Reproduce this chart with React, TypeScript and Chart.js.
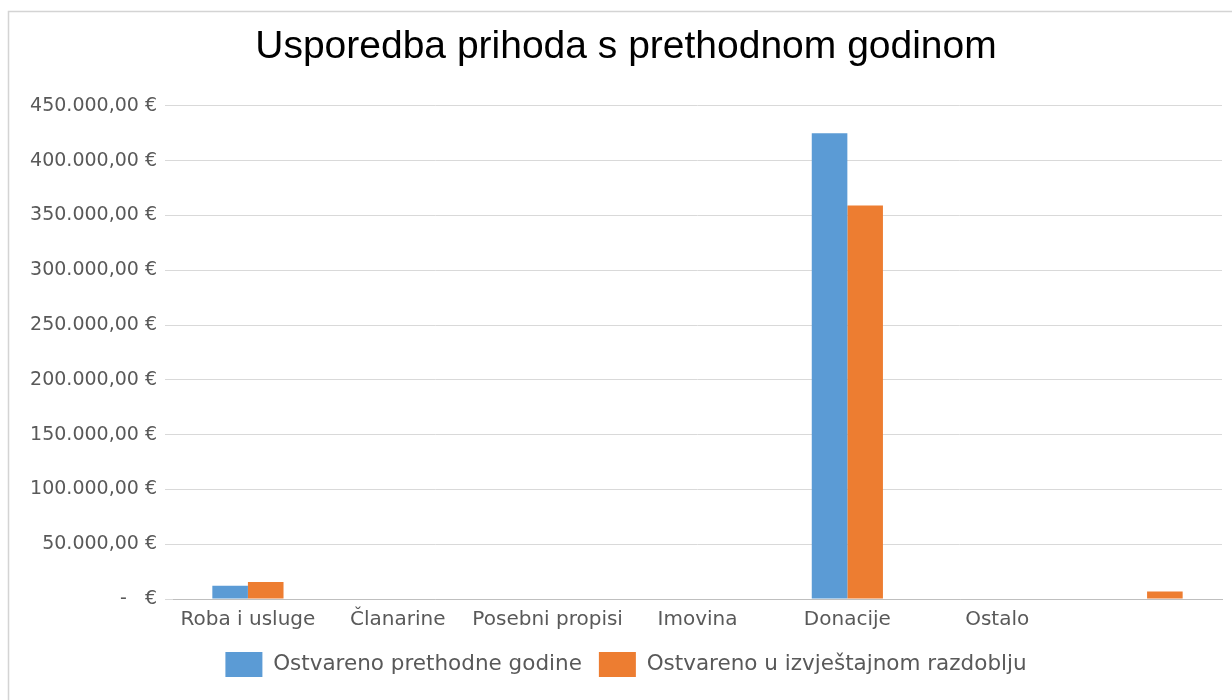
import React, { useEffect, useRef } from "react";
import { Chart, registerables } from "chart.js";

Chart.register(...registerables);

const categories = ["Roba i usluge", "Članarine", "Posebni propisi", "Imovina", "Donacije", "Ostalo", ""];
const prevYear = [12000, 0, 0, 0, 425000, 0, 0];
const currentPeriod = [15500, 0, 0, 0, 359000, 0, 6800];
const seriesLabels = ["Ostvareno prethodne godine", "Ostvareno u izvještajnom razdoblju"];
const titleText = "Usporedba prihoda s prethodnom godinom";
const yMax = 450000;
const yStep = 50000;

function formatEuro(v: number): string {
  if (v === 0) return "-   €";
  const intPart = Math.floor(v).toString().replace(/\B(?=(\d{3})+(?!\d))/g, ".");
  return intPart + ",00 €";
}

const framePlugin = {
  id: "frame",
  beforeDraw(chart: any) {
    const ctx = chart.ctx;
    ctx.save();
    ctx.fillStyle = "#ffffff";
    ctx.fillRect(0, 0, chart.width, chart.height);
    ctx.strokeStyle = "#d4d4d4";
    ctx.lineWidth = 1.5;
    ctx.strokeRect(8.5, 11.5, chart.width + 20, chart.height + 20);
    ctx.restore();
  },
};

export default function App() {
  const ref = useRef<HTMLCanvasElement | null>(null);
  useEffect(() => {
    if (!ref.current) return;
    const chart = new Chart(ref.current, {
      type: "bar",
      data: {
        labels: categories,
        datasets: [
          { label: seriesLabels[0], data: prevYear, backgroundColor: "#5B9BD5", borderWidth: 0, yAxisID: "y" },
          { label: seriesLabels[1], data: currentPeriod, backgroundColor: "#ED7D31", borderWidth: 0, yAxisID: "y" },
        ],
      },
      options: {
        responsive: false,
        animation: false,
        events: [],
        layout: { padding: { top: 10, left: 20, right: 0, bottom: 13 } },
        datasets: { bar: { categoryPercentage: 0.475, barPercentage: 1 } },
        plugins: {
          title: {
            display: true,
            text: titleText,
            color: "#000000",
            font: { family: "'Liberation Sans', Arial, sans-serif", size: 39, weight: "normal" },
            padding: { top: 14, bottom: 35 },
          },
          legend: {
            position: "bottom",
            labels: {
              boxWidth: 37,
              boxHeight: 25,
              padding: 17,
              color: "#595959",
              font: { family: "'DejaVu Sans', sans-serif", size: 21.5 },
            },
          },
          tooltip: { enabled: false },
        },
        scales: {
          x: {
            grid: { display: false, drawTicks: false },
            border: { display: true, color: "#BFBFBF", width: 1 },
            ticks: {
              color: "#595959",
              padding: 9,
              maxRotation: 0,
              autoSkip: false,
              font: { family: "'DejaVu Sans', sans-serif", size: 20 },
            },
            afterFit: (s: any) => {
              s.height = 36;
            },
          },
          y: {
            min: 0,
            max: yMax,
            grid: { color: "#D9D9D9", drawTicks: true, tickLength: 8 },
            border: { display: false },
            ticks: {
              stepSize: yStep,
              color: "#595959",
              padding: 8,
              font: { family: "'DejaVu Sans', sans-serif", size: 19 },
              callback: (v: any) => formatEuro(Number(v)),
            },
            afterFit: (s: any) => {
              s.width = 153;
            },
          },
          yRightSpacer: {
            type: "linear",
            position: "right",
            display: true,
            grid: { display: false, drawTicks: false },
            border: { display: false },
            ticks: { display: false },
            afterFit: (s: any) => {
              s.width = 10;
            },
          },
        },
      },
      plugins: [framePlugin],
    });
    return () => chart.destroy();
  }, []);
  return (
    <div style={{ position: "fixed", left: 0, top: 0, width: 1232, height: 700, background: "#fff" }}>
      <canvas ref={ref} width={1232} height={700} style={{ display: "block" }} />
    </div>
  );
}
